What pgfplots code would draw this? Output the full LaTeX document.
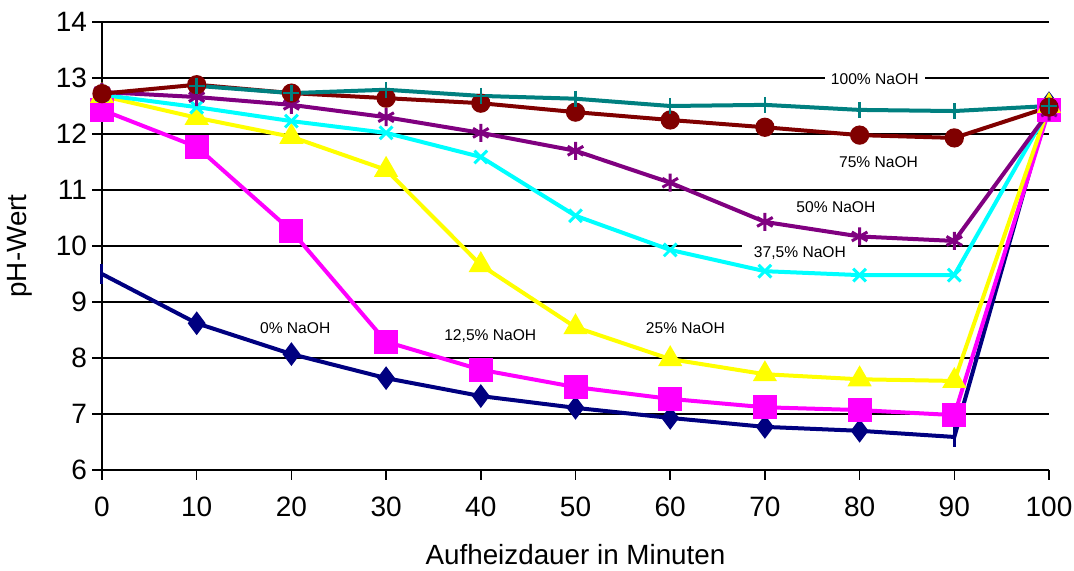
\documentclass[border=0pt]{standalone}
\usepackage{pgfplots}
\pgfplotsset{compat=1.18}
\usepackage{fontspec}
\setmainfont{Liberation Sans}
\definecolor{c0}{RGB}{0,0,128}
\definecolor{c12}{RGB}{255,0,255}
\definecolor{c25}{RGB}{255,255,0}
\definecolor{c37}{RGB}{0,255,255}
\definecolor{c50}{RGB}{128,0,128}
\definecolor{c75}{RGB}{128,0,0}
\definecolor{c100}{RGB}{0,128,128}
\begin{document}
\begin{tikzpicture}
\begin{axis}[name=ax, scale only axis, width=473.5pt, height=224pt,
  xmin=0, xmax=100, ymin=6, ymax=14,
  xtick={0,10,...,100}, ytick={6,7,...,14},
  axis x line*=bottom, axis y line*=left,
  axis line style={black, line width=1pt},
  ymajorgrids, grid style={black, line width=0.8pt},
  tick align=outside, major tick length=5pt,
  tick style={black, line width=0.8pt},
  /pgf/number format/assume math mode=true,
  tick label style={font=\fontsize{14}{17}\selectfont},
  yticklabel style={anchor=east, xshift=1pt},
  xticklabel style={anchor=north, yshift=-5pt},
  xlabel={Aufheizdauer in Minuten}, ylabel={pH-Wert},
  every axis x label/.style={at={(axis description cs:0.5,-0.188)}, anchor=center, font=\fontsize{13.9}{16}\selectfont},
  every axis y label/.style={at={(axis description cs:-0.0866,0.5)}, anchor=center, rotate=90, font=\fontsize{13.9}{16}\selectfont},
  clip=false,
  every axis plot/.append style={line width=2pt},
]
% 0% NaOH
\addplot[c0, mark=diamond*, mark size=4.3pt, mark indices={2,3,4,5,6,7,8,9,11}, mark options={solid, fill=c0}] coordinates {
 (0,9.50) (10,8.62) (20,8.07) (30,7.64) (40,7.32) (50,7.11) (60,6.93) (70,6.77) (80,6.70) (90,6.59) (100,12.55)};
\addplot[only marks, c0, mark=|, mark size=5pt, mark options={line width=1.5pt}] coordinates {(0,9.50) (90,6.59)};
% 12,5% NaOH
\addplot[c12, mark=square*, mark size=5pt, mark options={solid, fill=c12}] coordinates {
 (0,12.43) (10,11.77) (20,10.27) (30,8.29) (40,7.79) (50,7.48) (60,7.27) (70,7.12) (80,7.07) (90,6.98) (100,12.43)};
% 25% NaOH
\addplot[c25, mark=triangle*, mark size=5pt, mark options={solid, fill=c25}] coordinates {
 (0,12.68) (10,12.29) (20,11.95) (30,11.36) (40,9.66) (50,8.55) (60,7.98) (70,7.71) (80,7.62) (90,7.59) (100,12.50)};
% 37,5% NaOH
\addplot[c37, mark=x, mark size=4.5pt, mark options={solid, line width=1.5pt}] coordinates {
 (0,12.70) (10,12.48) (20,12.23) (30,12.02) (40,11.59) (50,10.54) (60,9.93) (70,9.55) (80,9.48) (90,9.48) (100,12.45)};
% 50% NaOH
\addplot[c50, mark=asterisk, mark size=4.5pt, mark options={solid, line width=1.5pt}] coordinates {
 (0,12.75) (10,12.66) (20,12.52) (30,12.30) (40,12.02) (50,11.70) (60,11.13) (70,10.43) (80,10.17) (90,10.09) (100,12.40)};
% 75% NaOH
\addplot[c75, mark=*, mark size=3.8pt, mark options={solid, fill=c75}] coordinates {
 (0,12.72) (10,12.88) (20,12.73) (30,12.64) (40,12.55) (50,12.39) (60,12.25) (70,12.12) (80,11.98) (90,11.93) (100,12.48)};
% 100% NaOH
\addplot[c100, mark=+, mark size=4pt, mark options={solid, line width=1.2pt}] coordinates {
 (10,12.86) (20,12.73) (30,12.79) (40,12.68) (50,12.63) (60,12.50) (70,12.52) (80,12.43) (90,12.41) (100,12.50)};
% labels
\begin{scope}[every node/.style={font=\fontsize{7.8}{9}\selectfont, inner ysep=2pt}]
\node[fill=white, inner xsep=3pt] at (axis cs:81.6,12.98) {100\% NaOH};
\node at (axis cs:82,11.5) {75\% NaOH};
\node at (axis cs:77.5,10.7) {50\% NaOH};
\node[fill=white, inner xsep=6pt] at (axis cs:73.7,9.88) {37,5\% NaOH};
\node at (axis cs:61.6,8.54) {25\% NaOH};
\node at (axis cs:41,8.39) {12,5\% NaOH};
\node[fill=white, inner xsep=6pt] at (axis cs:20.4,8.54) {0\% NaOH};
\end{scope}
\end{axis}
\path (ax.south west) +(-51pt,-50.5pt) coordinate (bl);
\path (ax.north east) +(12.5pt,11pt) coordinate (tr);
\pgfresetboundingbox
\useasboundingbox (bl) rectangle (tr);
\end{tikzpicture}
\end{document}
